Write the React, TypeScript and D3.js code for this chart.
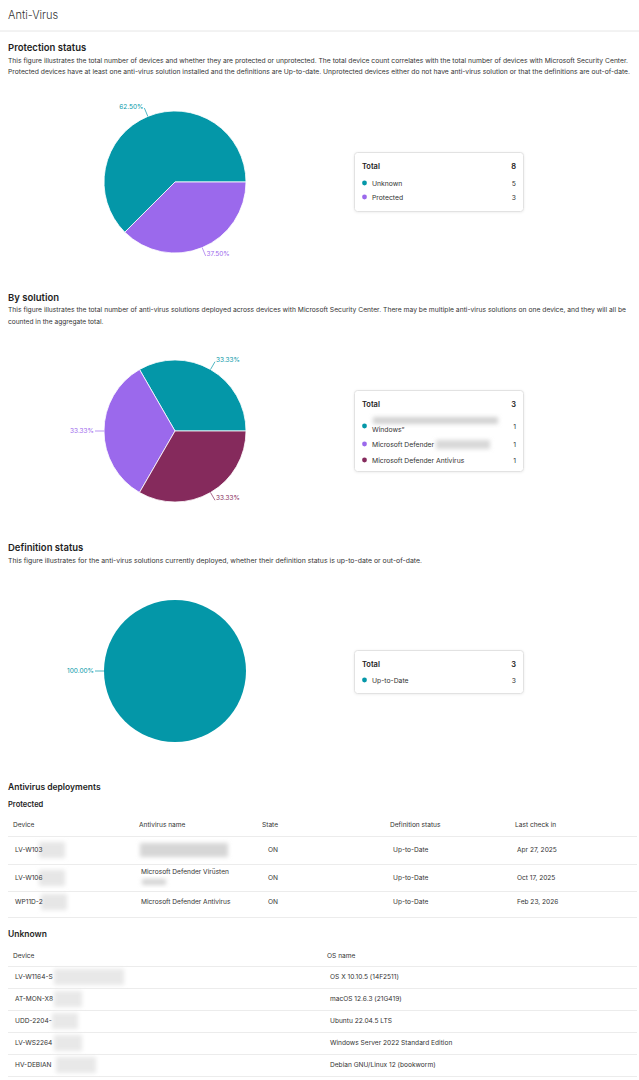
import React from "react";
import * as d3 from "d3";

const protectionCategories = ["Unknown", "Protected"];
const protectionValues = [5, 3];
const solutionCategories = ["Windows\u201D", "Microsoft Defender", "Microsoft Defender Antivirus"];
const solutionValues = [1, 1, 1];
const definitionCategories = ["Up-to-Date"];
const definitionValues = [3];
const palette = ["#0497a8", "#9b69ec", "#852a5c"];

const protectedDevices = ["LV-W103", "LV-W106", "WP11D-2"];
const protectedAvNames = ["", "Microsoft Defender Virüsten", "Microsoft Defender Antivirus"];
const protectedStates = ["ON", "ON", "ON"];
const protectedDefs = ["Up-to-Date", "Up-to-Date", "Up-to-Date"];
const protectedCheckIns = ["Apr 27, 2025", "Oct 17, 2025", "Feb 23, 2026"];
const protectedHeaders = ["Device", "Antivirus name", "State", "Definition status", "Last check in"];

const unknownDevices = ["LV-W1164-S", "AT-MON-X8", "UDD-2204-", "LV-WS2264", "HV-DEBIAN"];
const unknownOs = [
  "OS X 10.10.5 (14F2511)",
  "macOS 12.6.3 (21G419)",
  "Ubuntu 22.04.5 LTS",
  "Windows Server 2022 Standard Edition",
  "Debian GNU/Linux 12 (bookworm)",
];
const unknownHeaders = ["Device", "OS name"];

const FONT = "Inter, 'Noto Sans', sans-serif";

function Pie({ cx, cy, r, values }: { cx: number; cy: number; r: number; values: number[] }) {
  const total = d3.sum(values);
  const pie = d3
    .pie<number>()
    .sort(null)
    .startAngle(Math.PI / 2)
    .endAngle(Math.PI / 2 - 2 * Math.PI);
  const arcs = pie(values);
  const arc = d3.arc<d3.PieArcDatum<number>>().innerRadius(0).outerRadius(r);
  return (
    <g transform={`translate(${cx},${cy})`}>
      {arcs.map((a, i) => (
        <path key={i} d={arc(a) || ""} fill={palette[i]} stroke="#fff" strokeWidth={values.length > 1 ? 0.8 : 0} />
      ))}
      {arcs.map((a, i) => {
        const mid = (a.startAngle + a.endAngle) / 2;
        const sx = Math.sin(mid);
        const sy = -Math.cos(mid);
        const x1 = sx * r;
        const y1 = sy * r;
        const x2 = sx * (r + 9);
        const y2 = sy * (r + 9);
        const right = sx > 0.01;
        const pct = ((a.value / total) * 100).toFixed(2) + "%";
        return (
          <g key={"l" + i}>
            <line x1={x1} y1={y1} x2={x2} y2={y2} stroke={palette[i]} strokeWidth={0.7} />
            <text
              x={x2 + (right ? 1 : -1)}
              y={y2 + (sy > 0.3 ? -2 : sy < -0.3 ? -1.5 : 0)}
              textAnchor={right ? "start" : "end"}
              dominantBaseline="central"
              fontSize={6.5}
              fill={palette[i]}
              fontFamily={FONT}
            >
              {pct}
            </text>
          </g>
        );
      })}
    </g>
  );
}

function Blur({ x, y, w, h, c = "#d6d6d6" }: { x: number; y: number; w: number; h: number; c?: string }) {
  return <rect x={x} y={y} width={w} height={h} fill={c} filter="url(#blur)" />;
}

function Legend({
  y,
  h,
  cats,
  vals,
  rowYs,
}: {
  y: number;
  h: number;
  cats: string[];
  vals: number[];
  rowYs: number[];
}) {
  const total = d3.sum(vals);
  return (
    <g>
      <rect x={354.5} y={y + 0.5} width={169} height={h} rx={3} fill="#fff" stroke="#e2e2e2" filter="url(#shadow)" />
      <text x={362} y={y + 14} dominantBaseline="central" fontSize={7.5} fontWeight={600} fill="#222" fontFamily={FONT}>
        Total
      </text>
      <text x={516} y={y + 14} textAnchor="end" dominantBaseline="central" fontSize={7.5} fontWeight={600} fill="#222" fontFamily={FONT}>
        {total}
      </text>
      {cats.map((c, i) => (
        <g key={i}>
          <circle cx={364.5} cy={rowYs[i]} r={2.4} fill={palette[i]} />
          <text x={372} y={rowYs[i] + (c.startsWith("Windows") ? 3 : 0)} dominantBaseline="central" fontSize={6.8} fill="#333" fontFamily={FONT}>
            {c}
          </text>
          <text x={516} y={rowYs[i]} textAnchor="end" dominantBaseline="central" fontSize={6.8} fill="#333" fontFamily={FONT}>
            {vals[i]}
          </text>
        </g>
      ))}
    </g>
  );
}

export default function App() {
  const heading = (t: string, y: number, size = 9.5) => (
    <text x={8} y={y} dominantBaseline="central" fontSize={size} fontWeight={600} fill="#1e1e1e" fontFamily={FONT}>
      {t}
    </text>
  );
  const desc = (t: string, y: number, len?: number) => (
    <text
      x={8}
      y={y}
      dominantBaseline="central"
      fontSize={6.6}
      fill="#333"
      fontFamily={FONT}
      textLength={len}
      lengthAdjust={len ? "spacingAndGlyphs" : undefined}
    >
      {t}
    </text>
  );
  const cell = (t: string, x: number, y: number, color = "#333", size = 6.6) => (
    <text x={x} y={y} dominantBaseline="central" fontSize={size} fill={color} fontFamily={FONT}>
      {t}
    </text>
  );

  const pColX = [13, 139, 262, 390, 515];
  const pCellX = [15, 141, 268, 393, 517];
  const pRowY = [850, 878, 902];
  const pLines = [836, 864, 891, 917];
  const uRowY = [977, 999, 1021, 1043, 1065];
  const uLines = [966, 988, 1010, 1032, 1054, 1076];

  return (
    <svg
      width={639}
      height={1080}
      style={{ position: "absolute", left: 0, top: 0, background: "#fff" }}
      xmlns="http://www.w3.org/2000/svg"
    >
      <defs>
        <filter id="blur" x="-20%" y="-50%" width="140%" height="200%">
          <feGaussianBlur stdDeviation={2} />
        </filter>
        <filter id="shadow" x="-10%" y="-20%" width="120%" height="140%">
          <feDropShadow dx={0} dy={0.5} stdDeviation={1} floodColor="#000" floodOpacity={0.08} />
        </filter>
      </defs>
      <rect width={639} height={1080} fill="#fff" />
      <text x={8} y={15} dominantBaseline="central" fontSize={11} fontWeight={300} fill="#333" fontFamily={FONT}>
        Anti-Virus
      </text>
      <line x1={0} x2={639} y1={31} y2={31} stroke="#e6e6e6" />

      {heading("Protection status", 47)}
      {desc(
        "This figure illustrates the total number of devices and whether they are protected or unprotected. The total device count correlates with the total number of devices with Microsoft Security Center.",
        61,
        620
      )}
      {desc(
        "Protected devices have at least one anti-virus solution installed and the definitions are Up-to-date. Unprotected devices either do not have anti-virus solution or that the definitions are out-of-date.",
        72,
        622
      )}
      <Pie cx={175} cy={182} r={71} values={protectionValues} />
      <Legend y={152} h={59} cats={protectionCategories} vals={protectionValues} rowYs={[183, 197]} />

      {heading("By solution", 297)}
      {desc(
        "This figure illustrates the total number of anti-virus solutions deployed across devices with Microsoft Security Center. There may be multiple anti-virus solutions on one device, and they will all be",
        310,
        618
      )}
      {desc("counted in the aggregate total.", 322)}
      <Pie cx={175} cy={431} r={71} values={solutionValues} />
      <Legend y={390} h={81} cats={solutionCategories} vals={solutionValues} rowYs={[426, 444, 460]} />
      <Blur x={373} y={417} w={125} h={7} c="#d2d2d2" />
      <Blur x={436} y={440} w={54} h={9} c="#d8d8d8" />

      {heading("Definition status", 547)}
      {desc(
        "This figure illustrates for the anti-virus solutions currently deployed, whether their definition status is up-to-date or out-of-date.",
        561,
        414
      )}
      <Pie cx={175} cy={671} r={71} values={definitionValues} />
      <Legend y={650} h={43} cats={definitionCategories} vals={definitionValues} rowYs={[680]} />

      {heading("Antivirus deployments", 787, 8.5)}
      {heading("Protected", 804, 7.5)}
      {protectedHeaders.map((h, i) => (
        <g key={h}>{cell(h, pColX[i], 825)}</g>
      ))}
      {pLines.map((y, i) => (
        <line key={i} x1={8} x2={637} y1={y + 0.5} y2={y + 0.5} stroke="#ececec" />
      ))}
      {protectedDevices.map((d, i) => (
        <g key={d}>
          <Blur x={i === 2 ? 41 : 39} y={pRowY[i] - 8} w={26} h={16} c="#e6e6e6" />
          {cell(d, pCellX[0], pRowY[i])}
          {i === 1 ? (
            <>
              {cell(protectedAvNames[i], pCellX[1], 872)}
              <Blur x={142} y={879} w={24} h={6} c="#d4d4d4" />
            </>
          ) : i === 0 ? (
            <Blur x={140} y={843} w={88} h={14} c="#d6d6d6" />
          ) : (
            cell(protectedAvNames[i], pCellX[1], pRowY[i])
          )}
          {cell(protectedStates[i], pCellX[2], pRowY[i])}
          {cell(protectedDefs[i], pCellX[3], pRowY[i])}
          {cell(protectedCheckIns[i], pCellX[4], pRowY[i])}
        </g>
      ))}

      {heading("Unknown", 934, 8.5)}
      {cell(unknownHeaders[0], 13, 956)}
      {cell(unknownHeaders[1], 327, 956)}
      {uLines.map((y, i) => (
        <line key={i} x1={8} x2={637} y1={y + 0.5} y2={y + 0.5} stroke="#ececec" />
      ))}
      {unknownDevices.map((d, i) => (
        <g key={d}>
          <Blur x={[54, 54, 52, 54, 56][i]} y={uRowY[i] - 8} w={[70, 28, 26, 28, 40][i]} h={16} c="#e8e8e8" />
          {cell(d, 15, uRowY[i])}
          {cell(unknownOs[i], 330, uRowY[i])}
        </g>
      ))}
    </svg>
  );
}
